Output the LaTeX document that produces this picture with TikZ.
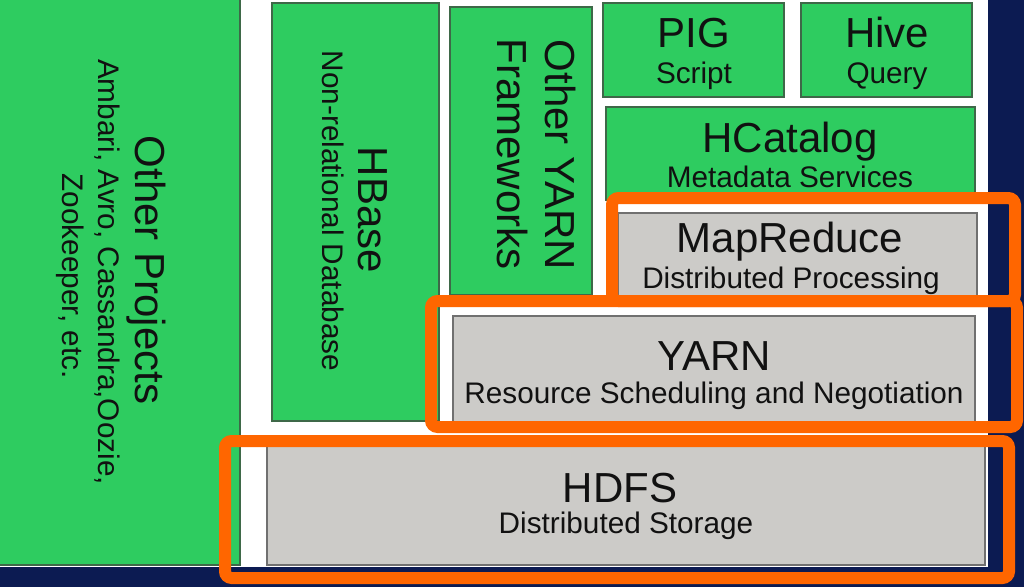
\documentclass[tikz,border=0pt]{standalone}
\usepackage{fontspec}
\setmainfont{Liberation Sans}
\definecolor{hgreen}{RGB}{46,204,96}
\definecolor{hgreenb}{RGB}{62,104,72}
\definecolor{hgray}{RGB}{204,203,200}
\definecolor{hgrayb}{RGB}{112,112,112}
\definecolor{horange}{RGB}{255,102,0}
\definecolor{hnavy}{RGB}{12,27,82}
\definecolor{htext}{RGB}{17,17,17}
\newcommand\titf{\fontsize{31.5}{36}\selectfont}
\newcommand\subf{\fontsize{22.3}{26}\selectfont}
\tikzset{
  gbox/.style={fill=hgreen, draw=hgreenb, line width=1.2pt},
  graybox/.style={fill=hgray, draw=hgrayb, line width=1.2pt},
  obox/.style={draw=horange, line width=9pt, rounded corners=5pt},
  txt/.style={inner sep=0pt, outer sep=0pt, text=htext, anchor=base},
  vtxt/.style={txt, rotate=-90}
}
\begin{document}
\begin{tikzpicture}[x=0.75pt,y=-0.75pt]
\useasboundingbox (0,0) rectangle (1024,587);
\fill[white] (0,0) rectangle (1024,587);
\fill[hnavy] (988,0) rectangle (1024,587);
\fill[hnavy] (0,567) rectangle (1024,587);
% green boxes
\draw[gbox] (-3,-3) rectangle (240,565);
\draw[gbox] (272,3) rectangle (439,421);
\draw[gbox] (450,7) rectangle (592,295);
\draw[gbox] (603,3) rectangle (784,97);
\draw[gbox] (801,3) rectangle (972,97);
\draw[gbox] (606,107) rectangle (975,200);
% gray boxes
\draw[graybox] (618,213) rectangle (977,300);
\draw[graybox] (453,316) rectangle (975,424);
\draw[graybox] (267,446) rectangle (985,565);
% vertical texts
\node[vtxt] (opT) at (135,270) {\titf Other Projects};
\node[vtxt] (opS1) at (98,272) {\subf Ambari, Avro, Cassandra,Oozie,};
\node[vtxt] (opS2) at (62,276) {\subf Zookeeper, etc.};
\node[vtxt] (hbT) at (358,210) {\titf HBase};
\node[vtxt] (hbS) at (322,211) {\subf Non-relational Database};
\node[vtxt] (oyT1) at (545,155) {\titf Other YARN};
\node[vtxt] (oyT2) at (497,154) {\titf Frameworks};
% horizontal texts
\node[txt] (pigT) at (694,47) {\titf PIG};
\node[txt] (pigS) at (694,83) {\subf Script};
\node[txt] (hiveT) at (887,47) {\titf Hive};
\node[txt] (hiveS) at (887,83) {\subf Query};
\node[txt] (hcT) at (790,152) {\titf HCatalog};
\node[txt] (hcS) at (790,187) {\subf Metadata Services};
\node[txt] (mrT) at (790,252) {\titf MapReduce};
\node[txt] (mrS) at (791,288) {\subf Distributed Processing};
\node[txt] (yaT) at (714,370) {\titf YARN};
\node[txt] (yaS) at (714,403) {\subf Resource Scheduling and Negotiation};
\node[txt] (hdT) at (620,502) {\titf HDFS};
\node[txt] (hdS) at (626,533) {\subf Distributed Storage};
% orange highlight frames
\draw[obox] (612,198) rectangle (1015,301);
\draw[obox] (431,301) rectangle (1017,427);
\draw[obox] (225,441) rectangle (1009,578);
\end{tikzpicture}
\end{document}
